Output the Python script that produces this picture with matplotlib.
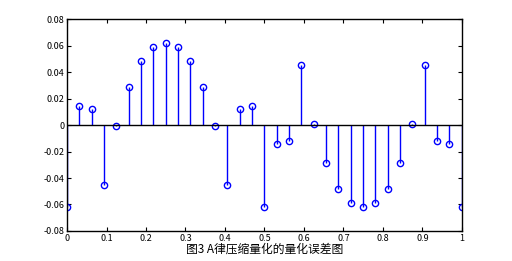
import matplotlib
matplotlib.use("Agg")
import matplotlib.pyplot as plt
import numpy as np

plt.rcParams['font.family'] = ['Noto Sans CJK SC', 'DejaVu Sans']

# quantization error samples, x = k/32
x = np.arange(33) / 32
err = [-0.062, 0.014, 0.012, -0.045, -0.001, 0.029, 0.048, 0.059, 0.062,
       0.059, 0.048, 0.029, -0.001, -0.045, 0.012, 0.014, -0.062,
       -0.014, -0.012, 0.045, 0.001, -0.029, -0.048, -0.059, -0.062,
       -0.059, -0.048, -0.029, 0.001, 0.045, -0.012, -0.014, -0.062]
xticks = [0, 0.1, 0.2, 0.3, 0.4, 0.5, 0.6, 0.7, 0.8, 0.9, 1]
yticks = [-0.08, -0.06, -0.04, -0.02, 0, 0.02, 0.04, 0.06, 0.08]

fig = plt.figure(figsize=(5.12, 2.61), dpi=100)
ax = fig.add_axes([0.131, 0.115, 0.771, 0.812])

ml, sl, bl = ax.stem(x, err, linefmt='b-', markerfmt='bo', basefmt='k-')
plt.setp(ml, markerfacecolor='none', markersize=4.5, markeredgewidth=1)
plt.setp(sl, linewidth=1)
plt.setp(bl, linewidth=1)

ax.set_xlim(0, 1)
ax.set_ylim(-0.08, 0.08)
ax.set_xticks(xticks)
ax.set_xticklabels(['0', '0.1', '0.2', '0.3', '0.4', '0.5', '0.6', '0.7', '0.8', '0.9', '1'])
ax.set_yticks(yticks)
ax.set_yticklabels(['-0.08', '-0.06', '-0.04', '-0.02', '0', '0.02', '0.04', '0.06', '0.08'])
ax.tick_params(direction='in', top=True, right=True, labelsize=6.5, length=3, pad=2)
for s in ax.spines.values():
    s.set_linewidth(1)
ax.set_xlabel('图3 A律压缩量化的量化误差图', fontsize=8.5, labelpad=0)
ax.xaxis.label.set_fontstretch('expanded')

fig.savefig('out.png', dpi=100)
